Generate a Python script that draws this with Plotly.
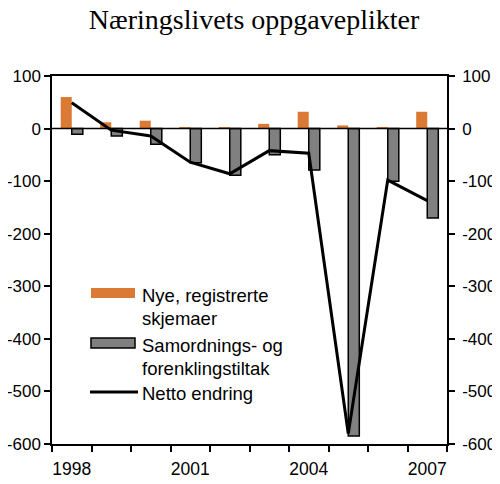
import plotly.graph_objects as go

# data
years = ["1998", "1999", "2000", "2001", "2002", "2003", "2004", "2005", "2006", "2007"]
year_labels = ["1998", "", "", "2001", "", "", "2004", "", "", "2007"]
nye_skjemaer = [60, 12, 15, 2, 2, 9, 32, 6, 2, 32]
samordning = [-11, -14, -30, -65, -89, -50, -79, -585, -100, -170]
netto = [49, -3, -14, -64, -86, -42, -47, -580, -98, -137]
y_ticks = [100, 0, -100, -200, -300, -400, -500, -600]
y_tick_text = ["100", "0", "-100", "-200", "-300", "-400", "-500", "-600"]

ORANGE = "#DB7A35"
GREY = "#808080"
FONT = "Liberation Sans, Arial, sans-serif"

fig = go.Figure()
fig.add_trace(go.Bar(x=years, y=nye_skjemaer, name="Nye, registrerte skjemaer",
                     marker=dict(color=ORANGE, line=dict(width=0))))
fig.add_trace(go.Bar(x=years, y=samordning, name="Samordnings- og forenklingstiltak",
                     marker=dict(color=GREY, line=dict(color="black", width=1.5))))
fig.add_trace(go.Scatter(x=years, y=netto, mode="lines", name="Netto endring",
                         line=dict(color="black", width=3)))
# invisible trace so the right-hand axis gets drawn
fig.add_trace(go.Scatter(x=years, y=netto, yaxis="y2", mode="lines",
                         line=dict(width=0), hoverinfo="skip", opacity=0))

axis_y = dict(range=[-600, 100], tickmode="array", tickvals=y_ticks, ticktext=y_tick_text,
              ticks="outside", ticklen=6, tickwidth=1.5, tickcolor="black",
              showline=True, linecolor="black", linewidth=1.5, showgrid=False,
              zeroline=False, automargin=False,
              tickfont=dict(family=FONT, size=17, color="black"))

# page body has an 8px margin, so the figure is a bit smaller than the window
fig.update_layout(
    width=492, height=476,
    margin=dict(l=44, r=53, t=68, b=40),
    paper_bgcolor="white", plot_bgcolor="white",
    title=dict(text="Næringslivets oppgaveplikter", x=0.5, xanchor="center",
               y=0.977, yanchor="middle",
               font=dict(family="Liberation Serif, Times New Roman, serif", size=28, color="black")),
    barmode="group", bargap=0.44, bargroupgap=0,
    showlegend=False,
    xaxis=dict(tickmode="array", tickvals=years, ticktext=year_labels, tickangle=0,
               tickson="boundaries", ticks="outside", ticklen=6, tickwidth=1.5,
               tickcolor="black", showline=True, linecolor="black", linewidth=1.5,
               mirror=True, showgrid=False, automargin=False, ticklabelstandoff=8,
               tickfont=dict(family=FONT, size=17.5, color="black")),
    yaxis=axis_y,
    yaxis2=dict(axis_y, overlaying="y", side="right", ticklabelstandoff=4),
)

# zero line across the plot
fig.add_hline(y=0, line=dict(color="black", width=1.5))

# legend drawn by hand to get the wide swatches of the original
legend_text = dict(xref="paper", yref="paper", xanchor="left", yanchor="middle",
                   showarrow=False, font=dict(family=FONT, size=18.5, color="black"))
def px_x(v):
    return (v - 52) / 395
def px_y(v):
    return (444 - v) / 368

fig.add_shape(type="rect", xref="paper", yref="paper", x0=px_x(91), x1=px_x(135),
              y0=px_y(298), y1=px_y(288), fillcolor=ORANGE, line=dict(width=0))
fig.add_shape(type="rect", xref="paper", yref="paper", x0=px_x(91), x1=px_x(135),
              y0=px_y(348), y1=px_y(338), fillcolor=GREY, line=dict(color="black", width=1.5))
fig.add_shape(type="line", xref="paper", yref="paper", x0=px_x(90), x1=px_x(138),
              y0=px_y(392), y1=px_y(392), line=dict(color="black", width=3))
for label, yy in [("Nye, registrerte", 295), ("skjemaer", 318),
                  ("Samordnings- og", 345), ("forenklingstiltak", 368),
                  ("Netto endring", 393)]:
    fig.add_annotation(text=label, x=px_x(140), y=px_y(yy), **legend_text)

fig.write_html("out.html")
